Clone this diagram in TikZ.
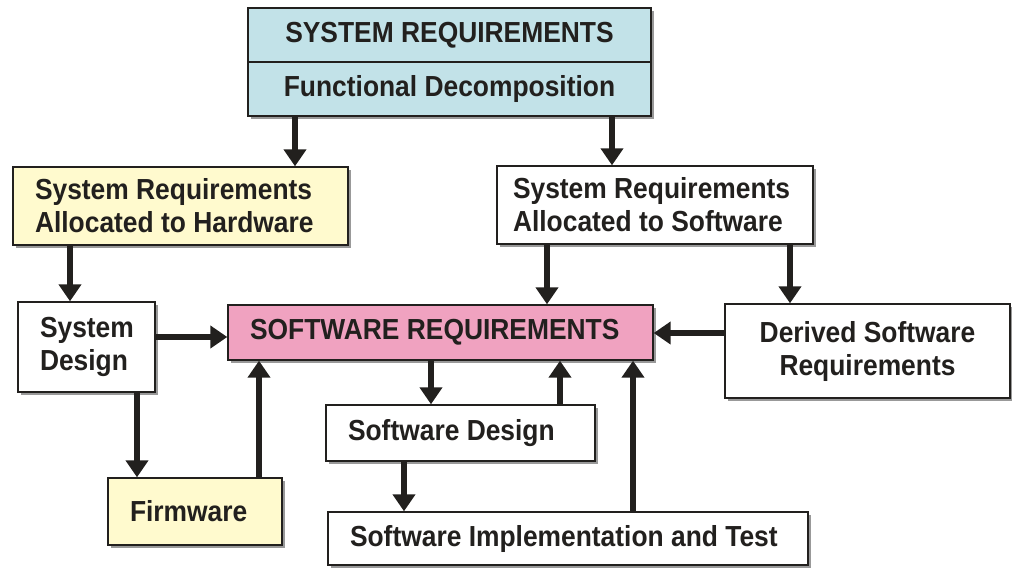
\documentclass[tikz,border=0pt]{standalone}
\usepackage{fontspec}
\newfontfamily\labelfont[FakeStretch=0.91]{Liberation Sans}
\usepackage{tikz}
\usetikzlibrary{arrows.meta}
\usetikzlibrary{shadows}
\definecolor{sysblue}{RGB}{194,226,232}
\definecolor{hwyellow}{RGB}{255,250,206}
\definecolor{reqpink}{RGB}{240,162,192}
\definecolor{ink}{RGB}{34,32,30}
\begin{document}
\begin{tikzpicture}[x=1pt,y=-1pt,
    box/.style={draw=ink, line width=1.4pt, fill=white, text=ink, align=center,
        inner sep=0pt, font=\labelfont\bfseries\fontsize{29}{33}\selectfont,
        drop shadow={shadow xshift=3pt, shadow yshift=-3pt, fill=black!40, opacity=1}},
    lbox/.style={box, align=flush left, inner xsep=22pt, text width=#1},
    flow/.style={draw=ink, line width=6pt, -{Triangle[width=22pt,length=17pt]}}]
        \useasboundingbox (0,0) rectangle (1012,568);

        \node[box, fill=sysblue, minimum width=403pt, minimum height=54pt] (sysreq) at (449.5,35) {SYSTEM REQUIREMENTS};
        \node[box, fill=sysblue, minimum width=403pt, minimum height=54pt] (funcdec) at (449.5,89) {Functional Decomposition};
        \node[lbox=291pt, fill=hwyellow, minimum height=78pt] (hwalloc) at (180.5,206) {System Requirements\\Allocated to Hardware};
        \node[lbox=284pt, inner xsep=16pt, minimum height=78pt] (swalloc) at (655,205) {System Requirements\\Allocated to Software};
        \node[lbox=93pt, minimum height=90pt] (sysdes) at (86.5,347) {System\\Design};
        \node[lbox=381pt, fill=reqpink, minimum height=55pt] (swreq) at (440.5,332.5) {SOFTWARE REQUIREMENTS};
        \node[box, minimum width=285pt, minimum height=94pt] (derived) at (867.5,351) {Derived Software\\Requirements};
        \node[lbox=225pt, minimum height=56pt] (swdes) at (460.5,433) {Software Design};
        \node[lbox=130pt, fill=hwyellow, minimum height=67pt] (firmware) at (195,511.5) {Firmware};
        \node[lbox=436pt, minimum height=53pt] (impl) at (568,538.5) {Software Implementation and Test};

        \draw[flow] (295,0 |- funcdec.south) -- (295,0 |- hwalloc.north);
        \draw[flow] (612,0 |- funcdec.south) -- (612,0 |- swalloc.north);
        \draw[flow] (70,0 |- hwalloc.south) -- (70,0 |- sysdes.north);
        \draw[flow] (547,0 |- swalloc.south) -- (547,0 |- swreq.north);
        \draw[flow] (790,0 |- swalloc.south) -- (790,0 |- derived.north);
        \draw[flow] (sysdes.east |- 0,337) -- (swreq.west |- 0,337);
        \draw[flow] (derived.west |- 0,333) -- (swreq.east |- 0,333);
        \draw[flow] (137,0 |- sysdes.south) -- (137,0 |- firmware.north);
        \draw[flow] (259,0 |- firmware.north) -- (259,0 |- swreq.south);
        \draw[flow] (431,0 |- swreq.south) -- (431,0 |- swdes.north);
        \draw[flow] (560,0 |- swdes.north) -- (560,0 |- swreq.south);
        \draw[flow] (404,0 |- swdes.south) -- (404,0 |- impl.north);
        \draw[flow] (633,0 |- impl.north) -- (633,0 |- swreq.south);
    \end{tikzpicture}
\end{document}
